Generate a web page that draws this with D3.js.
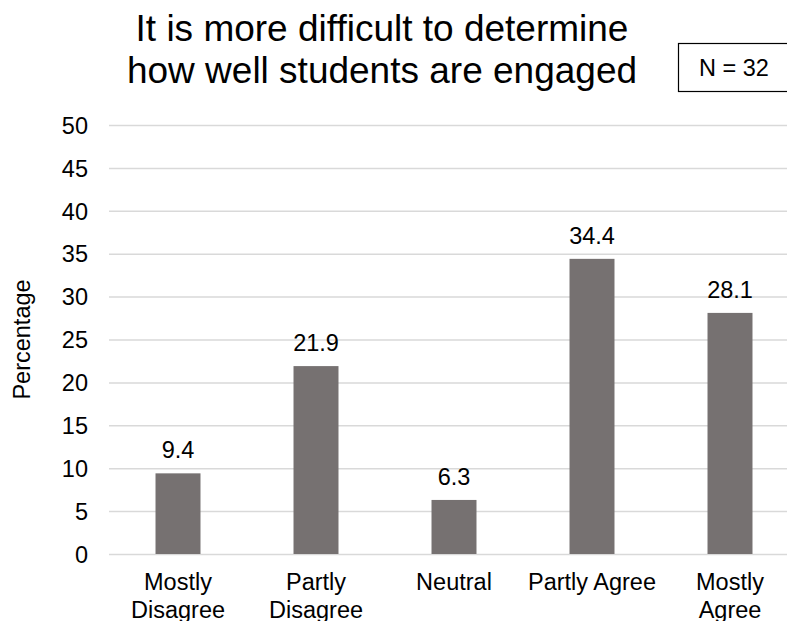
<!DOCTYPE html>
<html>
<head>
<meta charset="utf-8">
<script src="https://cdn.jsdelivr.net/npm/d3@7"></script>
<style>
  html, body { margin: 0; padding: 0; background: #fff; }
  svg { display: block; font-family: "Liberation Sans", Arial, sans-serif; }
</style>
</head>
<body>
<svg id="chart" width="787" height="621"></svg>
<script>
const categories = ["Mostly Disagree", "Partly Disagree", "Neutral", "Partly Agree", "Mostly Agree"];
const categoryLines = [["Mostly", "Disagree"], ["Partly", "Disagree"], ["Neutral"], ["Partly Agree"], ["Mostly", "Agree"]];
const values = [9.4, 21.9, 6.3, 34.4, 28.1];
const yTicks = [0, 5, 10, 15, 20, 25, 30, 35, 40, 45, 50];
const titleLines = ["It is more difficult to determine", "how well students are engaged"];
const nLabel = "N = 32";
const yAxisTitle = "Percentage";

const svg = d3.select("#chart");
const plotL = 109, plotR = 799, plotT = 125, plotB = 554;
const fs = 23.5;

const x = d3.scaleBand().domain(categories).range([plotL, plotR]).paddingInner(0.674).paddingOuter(0.337);
const y = d3.scaleLinear().domain([0, 50]).range([plotB, plotT]);

// gridlines
const yAxis = d3.axisLeft(y).tickValues(yTicks).tickSize(-(plotR - plotL)).tickPadding(21);
const gy = svg.append("g").attr("transform", `translate(${plotL},0)`).call(yAxis);
gy.select(".domain").remove();
gy.selectAll(".tick line").attr("stroke", "#d9d9d9").attr("stroke-width", 1.5);
gy.selectAll(".tick text").attr("fill", "#000").attr("font-size", fs).attr("font-family", "'Liberation Sans', Arial, sans-serif").attr("dy", "0.35em");

// bars
svg.append("g").selectAll("rect").data(values).join("rect")
  .attr("x", (d, i) => x(categories[i]))
  .attr("y", d => y(d))
  .attr("width", x.bandwidth())
  .attr("height", d => y(0) - y(d))
  .attr("fill", "#767171");

// data labels
svg.append("g").selectAll("text").data(values).join("text")
  .attr("x", (d, i) => x(categories[i]) + x.bandwidth() / 2)
  .attr("y", d => y(d) - 15)
  .attr("text-anchor", "middle")
  .attr("font-size", fs)
  .attr("fill", "#000")
  .text(d => d.toFixed(1));

// category labels
const cl = svg.append("g").selectAll("text").data(categoryLines).join("text")
  .attr("x", (d, i) => x(categories[i]) + x.bandwidth() / 2)
  .attr("y", 590)
  .attr("text-anchor", "middle")
  .attr("font-size", fs)
  .attr("fill", "#000");
cl.selectAll("tspan").data(d => d).join("tspan")
  .attr("x", function() { return d3.select(this.parentNode).attr("x"); })
  .attr("dy", (d, i) => i === 0 ? 0 : 28)
  .text(d => d);

// y axis title
svg.append("text")
  .attr("transform", `translate(30,${(plotT + plotB) / 2}) rotate(-90)`)
  .attr("text-anchor", "middle")
  .attr("font-size", fs)
  .attr("fill", "#000")
  .text(yAxisTitle);

// title
svg.append("g").selectAll("text").data(titleLines).join("text")
  .attr("x", 382)
  .attr("y", (d, i) => 41 + i * 42)
  .attr("text-anchor", "middle")
  .attr("font-size", 37)
  .attr("fill", "#000")
  .text(d => d);

// N box
svg.append("rect").attr("x", 678.5).attr("y", 43.5).attr("width", 130).attr("height", 48)
  .attr("fill", "#fff").attr("stroke", "#000").attr("stroke-width", 1.2);
svg.append("text").attr("x", 699).attr("y", 76).attr("font-size", fs).attr("fill", "#000").text(nLabel);
</script>
</body>
</html>
